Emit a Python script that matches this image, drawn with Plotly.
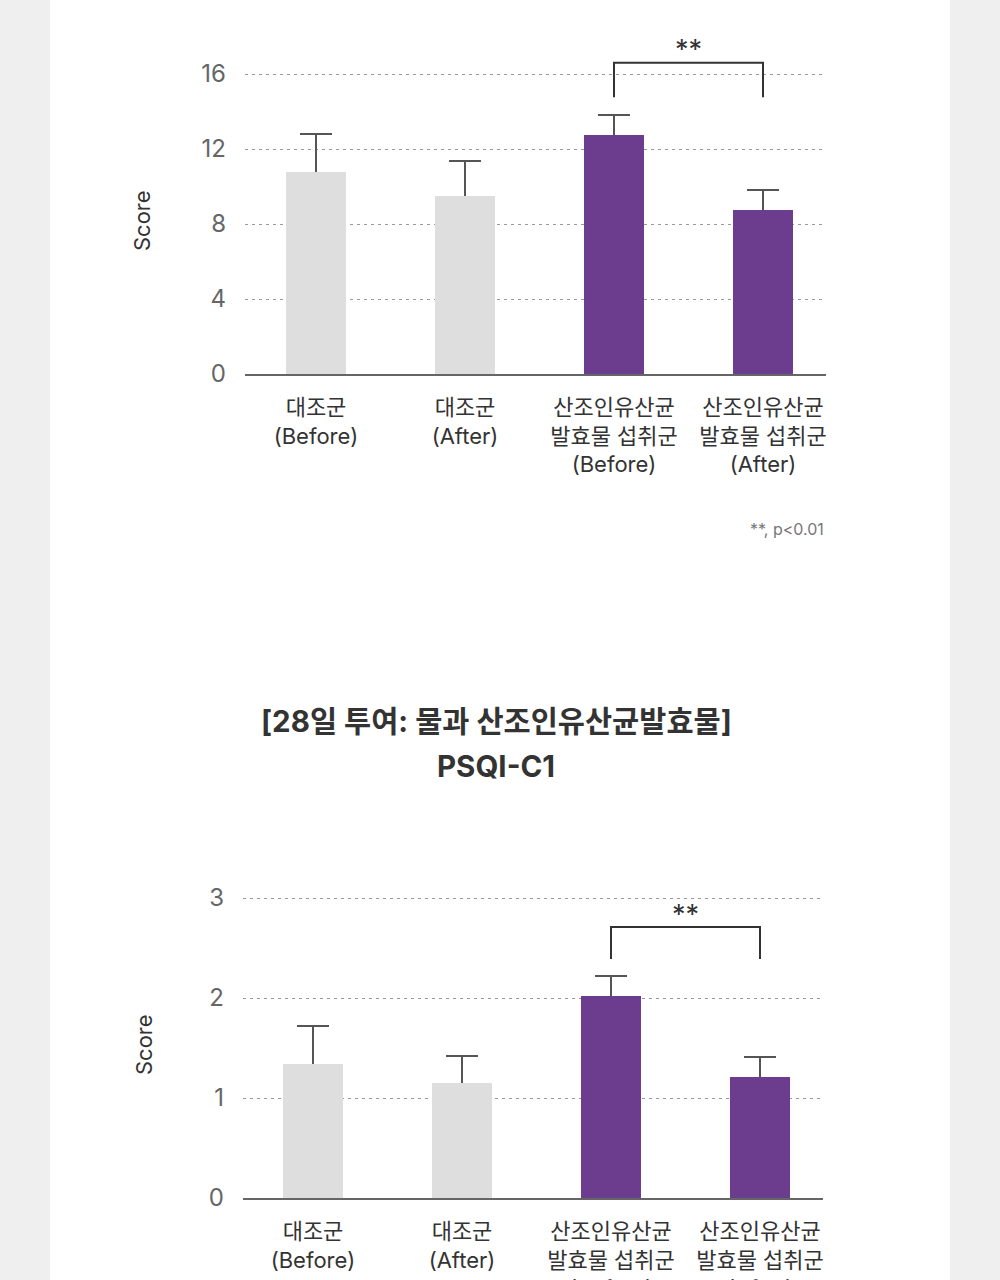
import plotly.graph_objects as go

# ---------------- data ----------------
categories = ["대조군<br>(Before)", "대조군<br>(After)",
              "산조인유산균<br>발효물 섭취군<br>(Before)", "산조인유산균<br>발효물 섭취군<br>(After)"]
bar_colors = ["#dedede", "#dedede", "#6c3d8f", "#6c3d8f"]

# Chart 1 (top, total score)
values_1 = [10.78, 9.48, 12.75, 8.75]
errors_1 = [2.02, 1.90, 1.07, 1.07]
yticks_1 = [0, 4, 8, 12, 16]
bracket_1 = [14.76, 16.6]    # leg bottom, bracket top
star_y_1 = 17.3

# Chart 2 (bottom, PSQI-C1)
values_2 = [1.34, 1.15, 2.02, 1.21]
errors_2 = [0.38, 0.27, 0.20, 0.20]
yticks_2 = [0, 1, 2, 3]
bracket_2 = [2.39, 2.71]
star_y_2 = 2.84

title_line1 = "[28일 투여: 물과 산조인유산균발효물]"
title_line2 = "PSQI-C1"
footnote = "**, p<0.01"
y_title = "Score"

FONT = "Inter, 'Noto Sans CJK KR', sans-serif"
W, H = 1000, 1280

def py(p):  # pixel y -> paper y
    return 1 - p / H

fig = go.Figure()

for vals, errs, xa, ya in [(values_1, errors_1, "x", "y"), (values_2, errors_2, "x2", "y2")]:
    # bars with symmetric error bars
    fig.add_trace(go.Bar(
        x=categories, y=vals, xaxis=xa, yaxis=ya,
        marker=dict(color=bar_colors, line=dict(width=0)),
        width=0.403,
        error_y=dict(type="data", array=errs, symmetric=True,
                     color="#555555", thickness=2, width=16),
        showlegend=False, hoverinfo="skip",
    ))
    # same bars drawn again on top to hide the lower half of the error bars
    fig.add_trace(go.Bar(
        x=categories, y=vals, xaxis=xa, yaxis=ya,
        marker=dict(color=bar_colors, line=dict(width=0)),
        width=0.403, showlegend=False, hoverinfo="skip",
    ))

common_x = dict(type="category", categoryorder="array", categoryarray=categories,
                showgrid=False, zeroline=False, showline=True, linecolor="#666666", linewidth=1.5,
                ticks="", tickfont=dict(family=FONT, size=22, color="#333333"),
                ticklabelstandoff=13, fixedrange=True, automargin=False)
common_y = dict(showgrid=True, gridcolor="#9a9a9a", gridwidth=1, griddash="3px,4px",
                zeroline=False, showline=False, ticks="",
                tickfont=dict(family=FONT, size=24, color="#666666"),
                ticklabelstandoff=18, fixedrange=True, automargin=False)

fig.update_layout(
    width=W, height=H, autosize=False,
    margin=dict(l=0, r=0, t=0, b=0, pad=0, autoexpand=False),
    paper_bgcolor="#efefef", plot_bgcolor="rgba(0,0,0,0)",
    font=dict(family=FONT),
    barmode="overlay", bargap=0,
    xaxis=dict(common_x, domain=[0.245, 0.826], range=[-0.4765, 3.4228], anchor="y"),
    yaxis=dict(common_y, domain=[py(374), 1.0], range=[0, 374 / 18.75],
               tickvals=yticks_1, anchor="x"),
    xaxis2=dict(common_x, domain=[0.243, 0.823], range=[-0.4698, 3.4228], anchor="y2"),
    yaxis2=dict(common_y, domain=[py(1198), py(860)], range=[0, 3.38],
                tickvals=yticks_2, anchor="x2"),
)

# white content panel
fig.add_shape(type="rect", xref="paper", yref="paper", x0=0.05, x1=0.95, y0=0, y1=1,
              fillcolor="white", line=dict(width=0), layer="below")

# significance brackets
for xr, yr, br, sy in [("x", "y", bracket_1, star_y_1), ("x2", "y2", bracket_2, star_y_2)]:
    fig.add_shape(type="path", xref=xr, yref=yr,
                  path=f"M 2,{br[0]} L 2,{br[1]} L 3,{br[1]} L 3,{br[0]}",
                  line=dict(color="#333333", width=2))
    fig.add_annotation(xref=xr, yref=yr, x=2.5, y=sy, text="**", showarrow=False,
                       xanchor="center", yanchor="middle",
                       font=dict(family=FONT, size=27, color="#333333"))

# y-axis titles
fig.add_annotation(xref="paper", yref="paper", x=0.142, y=py(221), text=y_title, textangle=-90,
                   xanchor="center", yanchor="middle",
                   showarrow=False, font=dict(family=FONT, size=22, color="#333333"))
fig.add_annotation(xref="paper", yref="paper", x=0.144, y=py(1045), text=y_title, textangle=-90,
                   xanchor="center", yanchor="middle",
                   showarrow=False, font=dict(family=FONT, size=22, color="#333333"))

# footnote
fig.add_annotation(xref="paper", yref="paper", x=0.826, y=py(529), text=footnote,
                   xanchor="right", yanchor="middle", showarrow=False,
                   font=dict(family=FONT, size=16, color="#777777"))

# title
fig.add_annotation(xref="paper", yref="paper", x=0.496, y=py(721), text=f"<b>{title_line1}</b>",
                   xanchor="center", yanchor="middle",
                   showarrow=False, font=dict(family=FONT, size=29.5, color="#333333"))
fig.add_annotation(xref="paper", yref="paper", x=0.496, y=py(766), text=f"<b>{title_line2}</b>",
                   xanchor="center", yanchor="middle",
                   showarrow=False, font=dict(family=FONT, size=29.5, color="#333333"))

fig.write_html("out.html", config={"responsive": False})
